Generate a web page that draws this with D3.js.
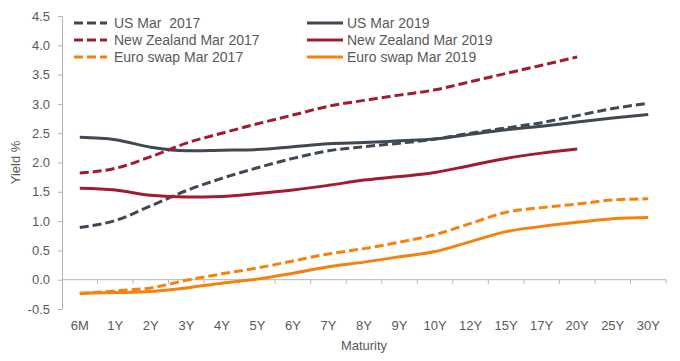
<!DOCTYPE html>
<html>
<head>
<meta charset="utf-8">
<script src="https://cdn.jsdelivr.net/npm/d3@7"></script>
<style>
  body { margin: 0; background: #fff; }
  svg { font-family: "Liberation Sans", Arial, sans-serif; }
</style>
</head>
<body>
<svg id="chart" width="680" height="361"></svg>
<script>
const maturities = ["6M", "1Y", "2Y", "3Y", "4Y", "5Y", "6Y", "7Y", "8Y", "9Y", "10Y", "12Y", "15Y", "17Y", "20Y", "25Y", "30Y"];
const yTicks = [-0.5, 0, 0.5, 1, 1.5, 2, 2.5, 3, 3.5, 4, 4.5];

const usMar2017 = [0.89, 1.01, 1.26, 1.52, 1.73, 1.91, 2.07, 2.20, 2.27, 2.33, 2.40, 2.50, 2.59, 2.68, 2.80, 2.92, 3.01];
const usMar2019 = [2.43, 2.39, 2.26, 2.20, 2.21, 2.22, 2.27, 2.32, 2.34, 2.37, 2.40, 2.48, 2.56, 2.62, 2.69, 2.76, 2.82];
const nzMar2017 = [1.82, 1.90, 2.10, 2.33, 2.50, 2.66, 2.81, 2.96, 3.06, 3.15, 3.24, 3.38, 3.52, 3.66, 3.80, null, null];
const nzMar2019 = [1.56, 1.53, 1.44, 1.41, 1.42, 1.47, 1.53, 1.61, 1.70, 1.76, 1.83, 1.95, 2.07, 2.16, 2.23, null, null];
const euMar2017 = [-0.24, -0.19, -0.14, -0.01, 0.10, 0.20, 0.32, 0.44, 0.53, 0.64, 0.77, 0.96, 1.15, 1.23, 1.29, 1.36, 1.38];
const euMar2019 = [-0.23, -0.22, -0.20, -0.14, -0.06, 0.01, 0.11, 0.22, 0.30, 0.39, 0.48, 0.65, 0.82, 0.91, 0.98, 1.04, 1.06];

const series = [
  { name: "US Mar  2017", values: usMar2017, color: "#3f4853", dashed: true },
  { name: "US Mar 2019", values: usMar2019, color: "#3f4853", dashed: false },
  { name: "New Zealand Mar 2017", values: nzMar2017, color: "#a01c2e", dashed: true },
  { name: "New Zealand Mar 2019", values: nzMar2019, color: "#a01c2e", dashed: false },
  { name: "Euro swap Mar 2017", values: euMar2017, color: "#f5820f", dashed: true },
  { name: "Euro swap Mar 2019", values: euMar2019, color: "#f5820f", dashed: false }
];

const svg = d3.select("#chart");
const margin = { top: 16, right: 14, bottom: 52, left: 62 };
const width = 680 - margin.left - margin.right;
const height = 361 - margin.top - margin.bottom;
const textColor = "#595959";
const axisColor = "#b4b4b4";

const g = svg.append("g")
  .attr("transform", "translate(" + margin.left + "," + margin.top + ")");

const x = d3.scaleBand().domain(maturities).range([0, width]).padding(0);
const y = d3.scaleLinear().domain([-0.5, 4.5]).range([height, 0]);
const cx = d => x(d) + x.bandwidth() / 2;

// y axis
const yAxis = g.append("g")
  .call(d3.axisLeft(y).tickValues(yTicks).tickFormat(d => d.toFixed(1)).tickSize(4).tickSizeOuter(0).tickPadding(8));
yAxis.select(".domain").attr("stroke", axisColor);
yAxis.selectAll(".tick line").attr("stroke", axisColor);
yAxis.selectAll("text").attr("fill", textColor).style("font-size", "13px");

// x axis line at zero with ticks on band boundaries
const xAxis = g.append("g").attr("transform", "translate(0," + y(0) + ")");
xAxis.append("line")
  .attr("x1", 0).attr("x2", width)
  .attr("stroke", axisColor);
xAxis.selectAll(".xtick")
  .data(maturities.slice(1).map(d => x(d)).concat([width]))
  .enter().append("line")
  .attr("class", "xtick")
  .attr("x1", d => d).attr("x2", d => d)
  .attr("y1", 0).attr("y2", 4)
  .attr("stroke", axisColor);

// category labels sit at the bottom of the plot
const xLabels = g.append("g")
  .attr("transform", "translate(0," + height + ")")
  .call(d3.axisBottom(x).tickSize(0).tickPadding(12));
xLabels.select(".domain").remove();
xLabels.selectAll("text").attr("fill", textColor).style("font-size", "13px");

// axis titles
svg.append("text")
  .attr("x", margin.left + width / 2)
  .attr("y", 350)
  .attr("text-anchor", "middle")
  .attr("fill", textColor)
  .style("font-size", "13px")
  .text("Maturity");

svg.append("text")
  .attr("transform", "translate(20," + (margin.top + height / 2) + ") rotate(-90)")
  .attr("text-anchor", "middle")
  .attr("fill", textColor)
  .style("font-size", "13px")
  .text("Yield %");

// lines
const line = d3.line()
  .defined(d => d.v !== null)
  .x(d => cx(d.m))
  .y(d => y(d.v))
  .curve(d3.curveMonotoneX);

g.selectAll(".series")
  .data(series)
  .enter().append("path")
  .attr("class", "series")
  .attr("fill", "none")
  .attr("stroke", d => d.color)
  .attr("stroke-width", 3)
  .attr("stroke-dasharray", d => d.dashed ? "9,4" : null)
  .attr("d", d => line(d.values.map((v, i) => ({ m: maturities[i], v: v }))));

// legend: two columns, three rows
const legend = svg.append("g");
const item = legend.selectAll(".item")
  .data(series)
  .enter().append("g")
  .attr("class", "item")
  .attr("transform", (d, i) => "translate(" + (i % 2 === 0 ? 74 : 307) + "," + (23 + Math.floor(i / 2) * 17) + ")");

item.append("line")
  .attr("x1", 0).attr("x2", (d, i) => i % 2 === 0 ? 33 : 36)
  .attr("stroke", d => d.color)
  .attr("stroke-width", 3)
  .attr("stroke-dasharray", d => d.dashed ? "9,4" : null);

item.append("text")
  .attr("x", 40)
  .attr("dy", "0.36em")
  .attr("fill", textColor)
  .style("font-size", "14px")
  .style("white-space", "pre")
  .text(d => d.name);
</script>
</body>
</html>
